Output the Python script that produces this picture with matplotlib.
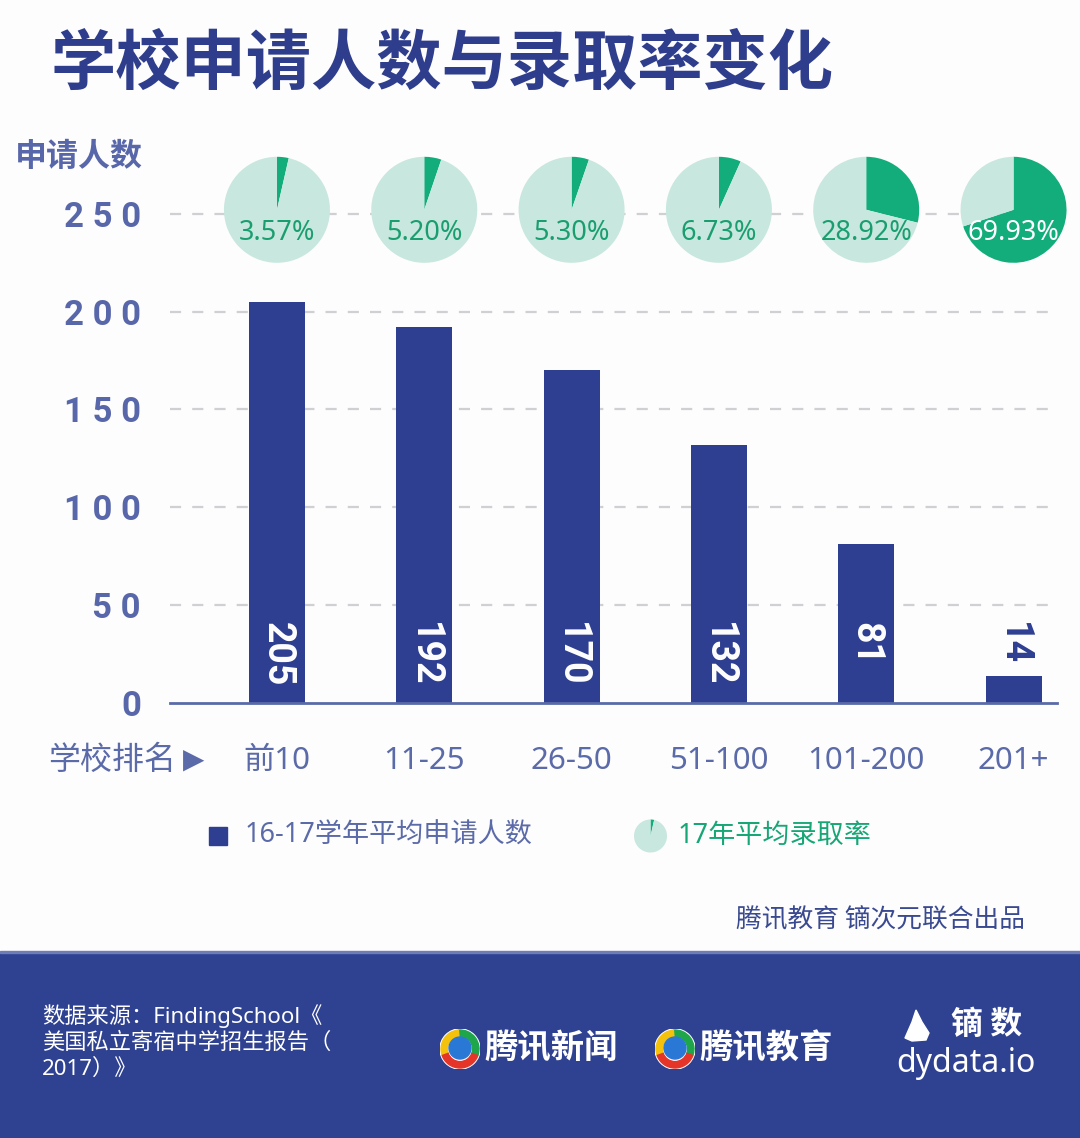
import matplotlib
matplotlib.use("Agg")
import matplotlib.pyplot as plt
from matplotlib.patches import Rectangle, Wedge, Circle, Polygon

# ---------------- data ----------------
categories = ["前10", "11-25", "26-50", "51-100", "101-200", "201+"]
applicants = [205, 192, 170, 132, 81, 14]
admit_rate = [3.57, 5.20, 5.30, 6.73, 28.92, 69.93]
yticks = [0, 50, 100, 150, 200, 250]

# ---------------- styles ----------------
CJK = ["Noto Sans CJK SC", "DejaVu Sans"]
MIX = ["Noto Sans", "Noto Sans CJK SC", "DejaVu Sans"]
NUM = "Roboto"
BAR = "#2e3f92"
TITLE = "#2f3d8d"
TICK = "#5867aa"
GREEN = "#12ad7a"
LIGHTG = "#c8e7de"
FOOT = "#2f4191"

W, H = 1080, 1138
fig = plt.figure(figsize=(W / 100, H / 100), dpi=100)
fig.patch.set_facecolor("#fdfdfd")

def fx(px):
    return px / W

def fy(py):
    return 1 - py / H

ax = fig.add_axes([fx(170), fy(703), fx(1057) - fx(170), fy(155) - fy(703)])
ax.set_facecolor("none")
x = list(range(len(categories)))
ax.set_xlim(-0.726, 5.295)
ax.set_ylim(0, 280)

ax.bar(x, applicants, width=0.38, color=BAR, zorder=3)

for yv in yticks[1:]:
    ax.axhline(yv, color="#cfcfd4", lw=1.6, ls=(0, (5, 5)), zorder=1)

for s in ["top", "right", "left"]:
    ax.spines[s].set_visible(False)
ax.spines["bottom"].set_color("#5a6aa8")
ax.spines["bottom"].set_linewidth(2)
ax.spines["bottom"].set_zorder(4)

ax.set_yticks(yticks)
ax.set_yticklabels([" ".join(str(v)) for v in yticks], fontfamily=NUM,
                   fontweight="bold", fontsize=25, color=TICK)
ax.tick_params(axis="y", length=0, pad=21)
ax.set_xticks(x)
ax.set_xticklabels(categories, fontfamily=MIX, fontsize=22.5, color="#5b6aa8")
ax.tick_params(axis="x", length=0, pad=31)

# value labels on bars
for i, v in enumerate(applicants):
    col = "white" if v > 40 else BAR
    ax.text(i, 41.5, str(v), rotation=-90, ha="center", va="top",
            fontfamily=NUM, fontweight="bold", fontsize=27, color=col, zorder=5)

# pies above bars
pw = 106 / 147.3
ph = 106 / 1.957
for i, r in enumerate(admit_rate):
    pax = ax.inset_axes([i - pw / 2, 252 - ph / 2, pw, ph], transform=ax.transData)
    pax.pie([r, 100 - r], colors=[GREEN, LIGHTG], startangle=90, counterclock=False,
            wedgeprops=dict(linewidth=0))
    pax.set_xlim(-1, 1)
    pax.set_ylim(-1, 1)
    pax.set_aspect("equal")
    pax.axis("off")
    tc = "white" if r > 50 else "#1a9e70"
    pax.text(0, -0.44, f"{r:.2f}%", ha="center", va="center", fontfamily="Noto Sans",
             fontsize=19.5, color=tc, clip_on=False)

# title & axis captions
fig.text(fx(50), fy(64), "学校申请人数与录取率变化", fontfamily=CJK, fontweight="heavy",
         fontsize=47, color=TITLE, ha="left", va="center")
fig.text(fx(15), fy(157), "申请人数", fontfamily=CJK, fontweight="bold", fontsize=23,
         color=TICK, ha="left", va="center")
fig.text(fx(48), fy(760), "学校排名", fontfamily=CJK, fontsize=23, color="#5b6aa8",
         ha="left", va="center")
fig.text(fx(183), fy(760), "▶", fontfamily="DejaVu Sans", fontsize=20, color="#5b6aa8",
         ha="left", va="center")

# legend
fig.add_artist(Rectangle((fx(209), fy(845)), fx(18), 18 / H, color=BAR,
                         transform=fig.transFigure))
fig.text(fx(245), fy(836), "16-17学年平均申请人数", fontfamily=MIX, fontsize=19.5,
         color="#5b6aa8", ha="left", va="center")
lax = fig.add_axes([fx(634), fy(853), fx(33), 34 / H])
lax.pie([admit_rate[0], 100 - admit_rate[0]], colors=[GREEN, LIGHTG], startangle=90,
        counterclock=False, wedgeprops=dict(linewidth=0))
lax.set_xlim(-1, 1)
lax.set_ylim(-1, 1)
lax.axis("off")
fig.text(fx(678), fy(836), "17年平均录取率", fontfamily=MIX, fontsize=19.5,
         color="#17a676", ha="left", va="center")

fig.text(fx(1025), fy(920), "腾讯教育 镝次元联合出品", fontfamily=CJK, fontsize=18.5,
         color="#3a4a90", ha="right", va="center")

# footer
fig.add_artist(Rectangle((0, 0), 1, fy(952), color=FOOT, transform=fig.transFigure,
                         zorder=0))
fig.add_artist(Rectangle((0, fy(953)), 1, 2 / H, color="#6e7db5",
                         transform=fig.transFigure, zorder=0))
fig.text(fx(42), fy(1042), "数据来源：FindingSchool《\n美国私立寄宿中学招生报告（\n2017）》",
         fontfamily=MIX, fontsize=16, color="white", ha="left", va="center",
         linespacing=1.3)

def tencent_logo(cx, cy):
    la = fig.add_axes([fx(cx - 20), fy(cy + 20), fx(40), 40 / H])
    la.set_xlim(-1, 1)
    la.set_ylim(-1, 1)
    la.set_aspect("equal")
    la.axis("off")
    la.add_patch(Circle((0, 0), 1, color="white"))
    la.add_patch(Wedge((0, 0), 0.95, -20, 95, width=0.32, color="#1fa64b"))
    la.add_patch(Wedge((0, 0), 0.95, 95, 200, width=0.32, color="#f4c20d"))
    la.add_patch(Wedge((0, 0), 0.95, 200, 340, width=0.32, color="#e53528"))
    la.add_patch(Circle((0, 0.05), 0.55, color="#2a78d6"))

def logo_text(xp, yp, s):
    return fig.text(fx(xp), fy(yp), s, fontfamily=CJK, fontweight="heavy", fontsize=24,
                    color="white", ha="left", va="center")

tencent_logo(460, 1049)
logo_text(484, 1049, "腾讯新闻")
tencent_logo(675, 1049)
logo_text(699, 1049, "腾讯教育")

# dydata logo
flame = [(fx(905), fy(1038)), (fx(912), fy(1022)), (fx(916), fy(1010)),
         (fx(922), fy(1022)), (fx(929), fy(1033)), (fx(926), fy(1040)), (fx(912), fy(1041))]
fig.add_artist(Polygon(flame, closed=True, color="white", transform=fig.transFigure))
fig.text(fx(987), fy(1025), "镝 数", fontfamily=CJK, fontweight="heavy", fontsize=23,
         color="white", ha="center", va="center")
fig.text(fx(966), fy(1064), "dydata.io", fontfamily="Noto Sans", fontsize=23,
         color="white", ha="center", va="center")

fig.savefig("out.png", dpi=100, facecolor=fig.get_facecolor())
